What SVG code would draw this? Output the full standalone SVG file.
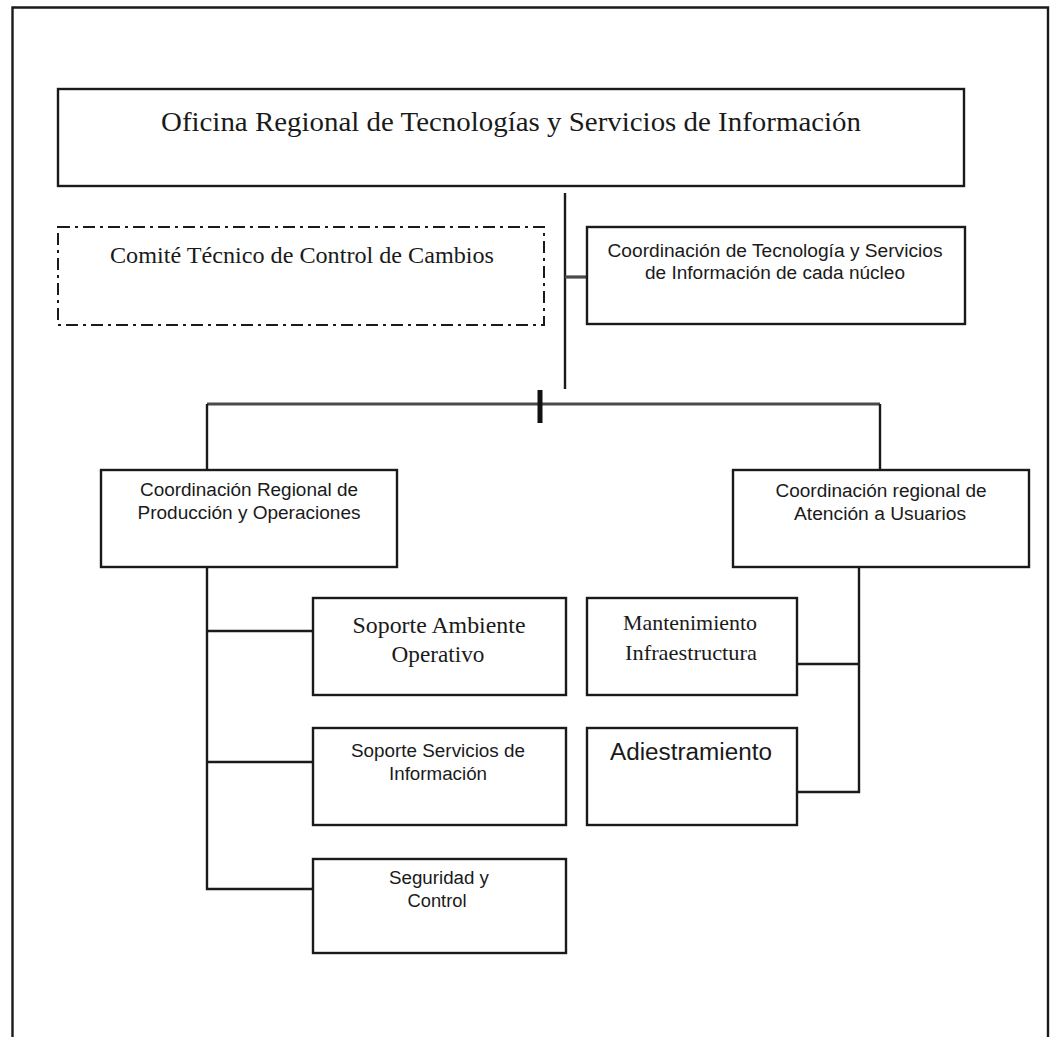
<svg xmlns="http://www.w3.org/2000/svg" width="1052" height="1037" viewBox="0 0 1052 1037">
  <style>
    .box { fill: #ffffff; stroke: #1a1a1a; stroke-width: 2.4; }
    .dash { fill: #ffffff; stroke: #1a1a1a; stroke-width: 2; stroke-dasharray: 12 5 3 5; }
    .ln { fill: none; stroke: #1a1a1a; stroke-width: 2.4; }
    .gray { fill: none; stroke: #4a4a4a; stroke-width: 3.2; }
    .serif { font-family: "Liberation Serif", "Times New Roman", serif; fill: #1a1a1a; text-anchor: middle; }
    .sans { font-family: "Liberation Sans", Arial, sans-serif; fill: #1a1a1a; text-anchor: middle; }
  </style>

  <rect width="1052" height="1037" fill="#ffffff"/>

  <!-- page frame -->
  <path class="ln" d="M12.5 1037 V7.5 H1048 V1037"/>

  <!-- connectors -->
  <g id="connectors">
    <path class="ln" d="M565 193 V389"/>
    <path class="gray" d="M565 277 H587"/>
    <path class="gray" d="M207 404 H880"/>
    <path fill="none" stroke="#111" stroke-width="5" d="M540 390 V423"/>
    <path class="ln" d="M207 404 V470"/>
    <path class="ln" d="M880 404 V470"/>
    <path class="ln" d="M207 567 V889 H313"/>
    <path class="ln" d="M207 631 H313"/>
    <path class="ln" d="M207 762 H313"/>
    <path class="ln" d="M859 567 V792 H797"/>
    <path class="ln" d="M859 664 H797"/>
  </g>

  <g id="oficina">
    <rect class="box" x="58" y="89" width="906" height="97"/>
    <text class="serif" x="511" y="131" font-size="28" textLength="700" lengthAdjust="spacingAndGlyphs">Oficina Regional de Tecnologías y Servicios de Información</text>
  </g>

  <g id="comite">
    <rect class="dash" x="58" y="227" width="486" height="98"/>
    <text class="serif" x="302" y="263" font-size="24" textLength="384" lengthAdjust="spacingAndGlyphs">Comité Técnico de Control de Cambios</text>
  </g>

  <g id="coord-nucleo">
    <rect class="box" x="587" y="227" width="378" height="97"/>
    <text class="sans" x="775" y="257" font-size="18" textLength="335" lengthAdjust="spacingAndGlyphs">Coordinación de Tecnología y Servicios</text>
    <text class="sans" x="775" y="279" font-size="18" textLength="260" lengthAdjust="spacingAndGlyphs">de Información de cada núcleo</text>
  </g>

  <g id="coord-produccion">
    <rect class="box" x="101" y="470" width="296" height="97"/>
    <text class="sans" x="249" y="496" font-size="18" textLength="218" lengthAdjust="spacingAndGlyphs">Coordinación Regional de</text>
    <text class="sans" x="249" y="519" font-size="18" textLength="223" lengthAdjust="spacingAndGlyphs">Producción y Operaciones</text>
  </g>

  <g id="coord-atencion">
    <rect class="box" x="733" y="470" width="296" height="97"/>
    <text class="sans" x="881" y="497" font-size="18" textLength="211" lengthAdjust="spacingAndGlyphs">Coordinación regional de</text>
    <text class="sans" x="880" y="520" font-size="18" textLength="172" lengthAdjust="spacingAndGlyphs">Atención a Usuarios</text>
  </g>

  <g id="soporte-ambiente">
    <rect class="box" x="313" y="598" width="253" height="97"/>
    <text class="serif" x="439" y="633" font-size="23" textLength="173" lengthAdjust="spacingAndGlyphs">Soporte Ambiente</text>
    <text class="serif" x="438" y="662" font-size="23" textLength="93" lengthAdjust="spacingAndGlyphs">Operativo</text>
  </g>

  <g id="soporte-servicios">
    <rect class="box" x="313" y="728" width="253" height="97"/>
    <text class="sans" x="438" y="757" font-size="18" textLength="174" lengthAdjust="spacingAndGlyphs">Soporte Servicios de</text>
    <text class="sans" x="438" y="780" font-size="18" textLength="98" lengthAdjust="spacingAndGlyphs">Información</text>
  </g>

  <g id="seguridad">
    <rect class="box" x="313" y="859" width="253" height="94"/>
    <text class="sans" x="439" y="884" font-size="18" textLength="100" lengthAdjust="spacingAndGlyphs">Seguridad y</text>
    <text class="sans" x="437" y="907" font-size="18" textLength="59" lengthAdjust="spacingAndGlyphs">Control</text>
  </g>

  <g id="mantenimiento">
    <rect class="box" x="587" y="598" width="210" height="97"/>
    <text class="serif" x="690" y="630" font-size="22" textLength="134" lengthAdjust="spacingAndGlyphs">Mantenimiento</text>
    <text class="serif" x="691" y="660" font-size="22" textLength="132" lengthAdjust="spacingAndGlyphs">Infraestructura</text>
  </g>

  <g id="adiestramiento">
    <rect class="box" x="587" y="728" width="210" height="97"/>
    <text class="sans" x="691" y="760" font-size="23" textLength="162" lengthAdjust="spacingAndGlyphs">Adiestramiento</text>
  </g>
</svg>
